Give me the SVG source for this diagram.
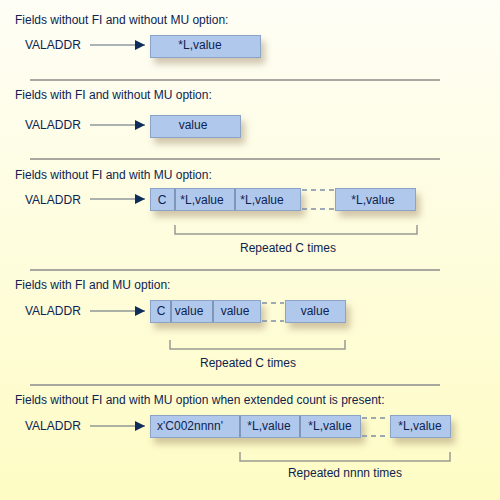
<svg xmlns="http://www.w3.org/2000/svg" width="500" height="500" viewBox="0 0 500 500">
<defs>
<linearGradient id="bg" x1="0" y1="0" x2="0" y2="1">
<stop offset="0" stop-color="#fefef6"/>
<stop offset="1" stop-color="#fefcc4"/>
</linearGradient>
<filter id="sh" x="-20%" y="-40%" width="150%" height="220%">
<feDropShadow dx="4" dy="6" stdDeviation="3.5" flood-color="#9a8060" flood-opacity="0.45"/>
</filter>
<marker id="ah" viewBox="0 0 10 10" refX="10" refY="5" markerWidth="10" markerHeight="10" markerUnits="userSpaceOnUse" orient="auto">
<path d="M0,0 L10,5 L0,10 Z" fill="#0f2d5a"/>
</marker>
<style>
text{font-family:"Liberation Sans",Arial,sans-serif;font-size:12px;fill:#0d2350}
.c{text-anchor:middle}
.box{fill:#b0c8ec;stroke:#8ba3c4;stroke-width:1}
.div{stroke:#6e86a8;stroke-width:1.5}
.sep{stroke:#a8a8a0;stroke-width:2}
.arr{stroke:#5a6678;stroke-width:1.2;fill:none}
.dash{stroke:#7d8da8;stroke-width:1.5;stroke-dasharray:5,4;fill:none}
.br{stroke:#9a9a92;stroke-width:1.5;fill:none}
</style>
</defs>
<rect width="500" height="500" fill="url(#bg)"/>

<g id="separators">
<line class="sep" x1="30" y1="80" x2="440" y2="80"/>
<line class="sep" x1="30" y1="159" x2="440" y2="159"/>
<line class="sep" x1="30" y1="270" x2="440" y2="270"/>
<line class="sep" x1="30" y1="385" x2="440" y2="385"/>
</g>

<g id="titles">
<text x="15" y="24">Fields without FI and without MU option:</text>
<text x="15" y="99">Fields with FI and without MU option:</text>
<text x="15" y="179">Fields without FI and with MU option:</text>
<text x="15" y="289">Fields with FI and MU option:</text>
<text x="15" y="404">Fields without FI and with MU option when extended count is present:</text>
</g>

<g id="connectors">
<line class="arr" x1="90" y1="45" x2="145" y2="45" marker-end="url(#ah)"/>
<line class="arr" x1="90" y1="125" x2="145" y2="125" marker-end="url(#ah)"/>
<line class="arr" x1="90" y1="199" x2="145" y2="199" marker-end="url(#ah)"/>
<line class="arr" x1="90" y1="311" x2="145" y2="311" marker-end="url(#ah)"/>
<line class="arr" x1="90" y1="426" x2="145" y2="426" marker-end="url(#ah)"/>
</g>

<g id="section1">
<text x="25" y="49">VALADDR</text>
<g id="s1-box">
<rect class="box" x="150.5" y="35.5" width="110" height="22" filter="url(#sh)"/>
<text class="c" x="200" y="49">*L,value</text>
</g>
</g>

<g id="section2">
<text x="25" y="129">VALADDR</text>
<g id="s2-box">
<rect class="box" x="150.5" y="115.5" width="90" height="22" filter="url(#sh)"/>
<text class="c" x="193" y="129">value</text>
</g>
</g>

<g id="section3">
<text x="25" y="204">VALADDR</text>
<g id="s3-cells">
<rect class="box" x="150.5" y="188.5" width="150" height="22" filter="url(#sh)"/>
<line class="div" x1="175" y1="189" x2="175" y2="210"/>
<line class="div" x1="235" y1="189" x2="235" y2="210"/>
<text class="c" x="162" y="204">C</text>
<text class="c" x="202" y="204">*L,value</text>
<text class="c" x="262" y="204">*L,value</text>
</g>
<path class="dash" d="M302,190 H334 M302,209 H334"/>
<g id="s3-last">
<rect class="box" x="335.5" y="188.5" width="80" height="22" filter="url(#sh)"/>
<text class="c" x="373" y="204">*L,value</text>
</g>
<path class="br" d="M175,225 V234 H417 V225"/>
<text class="c" x="288" y="252">Repeated C times</text>
</g>

<g id="section4">
<text x="25" y="315">VALADDR</text>
<g id="s4-cells">
<rect class="box" x="150.5" y="300.5" width="110" height="22" filter="url(#sh)"/>
<line class="div" x1="171" y1="301" x2="171" y2="322"/>
<line class="div" x1="213" y1="301" x2="213" y2="322"/>
<text class="c" x="161" y="315">C</text>
<text class="c" x="189" y="315">value</text>
<text class="c" x="235" y="315">value</text>
</g>
<path class="dash" d="M262,303 H284 M262,321 H284"/>
<g id="s4-last">
<rect class="box" x="285.5" y="300.5" width="60" height="22" filter="url(#sh)"/>
<text class="c" x="315" y="315">value</text>
</g>
<path class="br" d="M170,340 V349 H345 V340"/>
<text class="c" x="248" y="367">Repeated C times</text>
</g>

<g id="section5">
<text x="25" y="430">VALADDR</text>
<g id="s5-cells">
<rect class="box" x="150.5" y="415.5" width="210" height="22" filter="url(#sh)"/>
<line class="div" x1="240" y1="416" x2="240" y2="437"/>
<line class="div" x1="300" y1="416" x2="300" y2="437"/>
<text x="157" y="430">x'C002nnnn'</text>
<text class="c" x="269" y="430">*L,value</text>
<text class="c" x="330" y="430">*L,value</text>
</g>
<path class="dash" d="M362,418 H389 M362,436 H389"/>
<g id="s5-last">
<rect class="box" x="390.5" y="415.5" width="60" height="22" filter="url(#sh)"/>
<text class="c" x="420" y="430">*L,value</text>
</g>
<path class="br" d="M240,452 V461 H450 V452"/>
<text class="c" x="345" y="477">Repeated nnnn times</text>
</g>
</svg>
